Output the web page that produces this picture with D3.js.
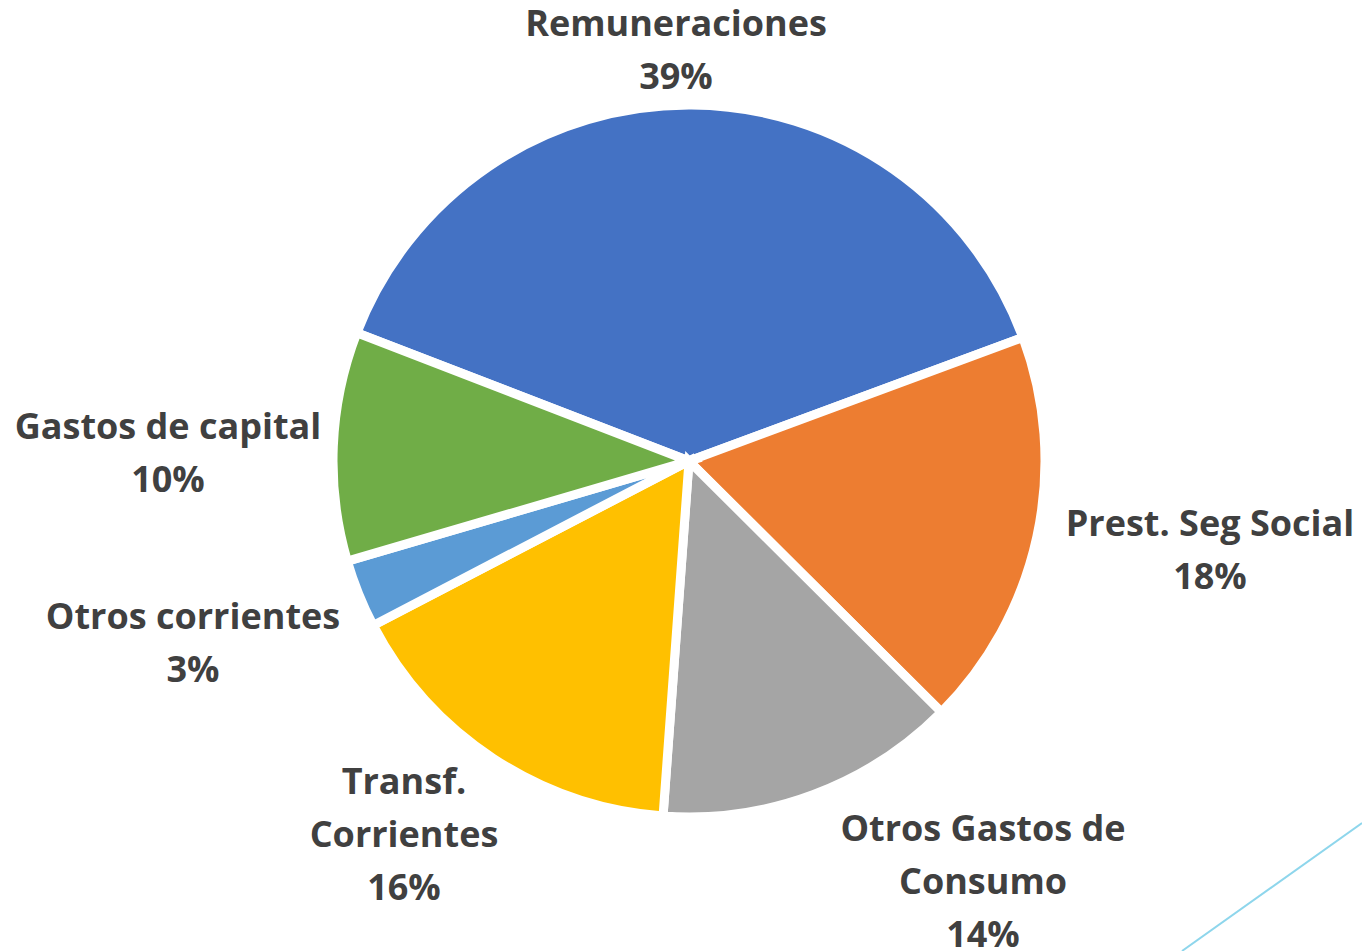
<!DOCTYPE html>
<html>
<head>
<meta charset="utf-8">
<script src="https://cdn.jsdelivr.net/npm/d3@7"></script>
<style>
  html, body { margin: 0; padding: 0; background: #fff; }
  svg { display: block; }
</style>
</head>
<body>
<svg id="chart" width="1362" height="951"></svg>
<script>
// categories and shares (percent)
var categories = ['Remuneraciones', 'Prest. Seg Social', 'Otros Gastos de Consumo',
                  'Transf. Corrientes', 'Otros corrientes', 'Gastos de capital'];
var values = [38.5, 18.1, 13.7, 16.2, 3.1, 10.4];
var colors = ['#4472C4', '#ED7D31', '#A5A5A5', '#FFC000', '#5B9BD5', '#70AD47'];
// how each label is broken into lines
var labelLines = [['Remuneraciones'], ['Prest. Seg Social'], ['Otros Gastos de', 'Consumo'],
                  ['Transf.', 'Corrientes'], ['Otros corrientes'], ['Gastos de capital']];

// layout
var width = 1362, height = 951;
var cx = 689, cy = 461, radius = 356;
var startDeg = -68.9;
var lineH = 53;
// label block centres (x, y of first line)
var labelAnchors = [[676, 22], [1210, 522], [983, 827], [404, 780], [193, 615], [168, 425]];

var svg = d3.select('#chart');

// decorative line bottom right
svg.append('line')
    .attr('x1', 1362).attr('y1', 823)
    .attr('x2', 1182).attr('y2', 951)
    .attr('stroke', '#8ED6EC')
    .attr('stroke-width', 2);

var total = d3.sum(values);
var start = startDeg * Math.PI / 180;
var pie = d3.pie()
    .sort(null)
    .value(function (d) { return d; })
    .startAngle(start)
    .endAngle(start + 2 * Math.PI);
var arc = d3.arc().innerRadius(0).outerRadius(radius);

var g = svg.append('g').attr('transform', 'translate(' + cx + ',' + cy + ')');
g.selectAll('path')
    .data(pie(values))
    .enter().append('path')
    .attr('d', arc)
    .attr('fill', function (d, i) { return colors[i]; })
    .attr('stroke', '#fff')
    .attr('stroke-width', 9)
    .attr('stroke-linejoin', 'miter');

var labels = svg.append('g')
    .attr('font-family', '"Open Sans", sans-serif')
    .attr('font-weight', 'bold')
    .attr('font-size', 36)
    .attr('fill', '#404040')
    .attr('text-anchor', 'middle');

categories.forEach(function (c, i) {
    var lines = labelLines[i].concat([Math.round(values[i] / total * 100) + '%']);
    var t = labels.append('text')
        .attr('x', labelAnchors[i][0])
        .attr('y', labelAnchors[i][1])
        .attr('dominant-baseline', 'central');
    lines.forEach(function (l, j) {
        t.append('tspan')
            .attr('x', labelAnchors[i][0])
            .attr('y', labelAnchors[i][1] + j * lineH)
            .text(l);
    });
});
</script>
</body>
</html>
